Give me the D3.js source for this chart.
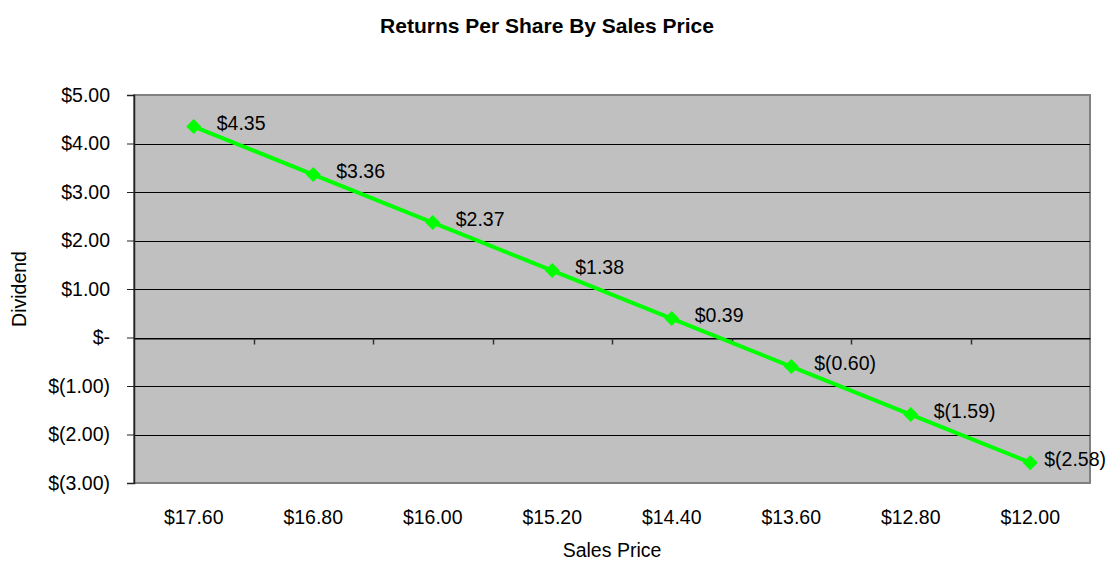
<!DOCTYPE html>
<html>
<head>
<meta charset="utf-8">
<script src="https://cdn.jsdelivr.net/npm/d3@7"></script>
<style>
  html, body { margin: 0; padding: 0; background: #fff; }
  svg { display: block; font-family: Arial, "Liberation Sans", sans-serif; }
</style>
</head>
<body>
<svg id="chart" width="1109" height="563"></svg>
<script>
// data
const prices = ["$17.60", "$16.80", "$16.00", "$15.20", "$14.40", "$13.60", "$12.80", "$12.00"];
const dividends = [4.35, 3.36, 2.37, 1.38, 0.39, -0.60, -1.59, -2.58];
const yTicks = [5, 4, 3, 2, 1, 0, -1, -2, -3];

const W = 1109, H = 563;
const margin = { top: 95, right: 19, bottom: 80, left: 134 };
const FS = 19.5;
const svg = d3.select("#chart");

// excel-style accounting format
function money(v) {
  if (v === 0) return "$-";
  const s = Math.abs(v).toFixed(2);
  return v < 0 ? `$(${s})` : `$${s}`;
}

const x = d3.scaleBand()
  .domain(prices)
  .range([margin.left, W - margin.right]);

const y = d3.scaleLinear()
  .domain([-3, 5])
  .range([H - margin.bottom, margin.top]);

const x0 = margin.left, x1 = W - margin.right;
const yTop = margin.top, yBot = H - margin.bottom;

// plot background
svg.append("rect")
  .attr("x", x0).attr("y", yTop)
  .attr("width", x1 - x0).attr("height", yBot - yTop)
  .attr("fill", "#c0c0c0")
  .attr("stroke", "#808080")
  .attr("stroke-width", 2);

// gridlines
svg.append("g")
  .selectAll("line")
  .data(yTicks.filter(d => d !== 5 && d !== -3))
  .join("line")
  .attr("x1", x0).attr("x2", x1)
  .attr("y1", d => Math.round(y(d)) + 0.5)
  .attr("y2", d => Math.round(y(d)) + 0.5)
  .attr("stroke", "#000")
  .attr("stroke-width", 1);

// y axis
const yAxis = svg.append("g")
  .attr("transform", `translate(${x0},0)`)
  .call(d3.axisLeft(y).tickValues(yTicks).tickSize(7).tickPadding(17).tickFormat(money));
yAxis.select(".domain").attr("stroke", "#222").attr("stroke-width", 1.5);
yAxis.selectAll(".tick line").attr("stroke", "#222");
yAxis.selectAll(".tick text")
  .attr("fill", "#000")
  .attr("font-size", FS)
  .attr("font-family", "Arial, 'Liberation Sans', sans-serif");

// category axis sits on zero, ticks hang down between bands
const zeroY = Math.round(y(0)) + 0.5;
const xAxis = svg.append("g")
  .attr("transform", `translate(0,${zeroY})`)
  .call(d3.axisBottom(x).tickSize(0).tickFormat(""));
xAxis.select(".domain").attr("stroke", "#000").attr("stroke-width", 1.2);

svg.append("g")
  .selectAll("line")
  .data(prices.slice(1))
  .join("line")
  .attr("x1", d => Math.round(x(d)) + 0.5)
  .attr("x2", d => Math.round(x(d)) + 0.5)
  .attr("y1", zeroY).attr("y2", zeroY + 6)
  .attr("stroke", "#333")
  .attr("stroke-width", 1.5);

// category labels below plot
svg.append("g")
  .selectAll("text")
  .data(prices)
  .join("text")
  .attr("x", d => x(d) + x.bandwidth() / 2)
  .attr("y", yBot + 41)
  .attr("text-anchor", "middle")
  .attr("font-size", FS)
  .text(d => d);

// series
const pts = prices.map((p, i) => ({ p, v: dividends[i] }));
const cx = d => x(d.p) + x.bandwidth() / 2;

svg.append("path")
  .datum(pts)
  .attr("fill", "none")
  .attr("stroke", "#00ff00")
  .attr("stroke-width", 4)
  .attr("d", d3.line().x(cx).y(d => y(d.v)));

svg.append("g")
  .selectAll("path")
  .data(pts)
  .join("path")
  .attr("transform", d => `translate(${cx(d)},${y(d.v)})`)
  .attr("d", "M0,-7.5L7.5,0L0,7.5L-7.5,0Z")
  .attr("fill", "#00ff00");

// data labels, right of the marker, kept inside the chart
svg.append("g")
  .selectAll("text")
  .data(pts)
  .join("text")
  .attr("font-size", FS)
  .attr("dy", "0.35em")
  .attr("y", d => y(d.v) - 3)
  .text(d => money(d.v))
  .attr("x", function (d) {
    const w = this.getComputedTextLength();
    return Math.min(cx(d) + 23, W - 3 - w);
  });

// titles
svg.append("text")
  .attr("x", 547).attr("y", 33)
  .attr("text-anchor", "middle")
  .attr("font-size", 21)
  .attr("font-weight", "bold")
  .text("Returns Per Share By Sales Price");

svg.append("text")
  .attr("x", (x0 + x1) / 2).attr("y", yBot + 74)
  .attr("text-anchor", "middle")
  .attr("font-size", FS)
  .text("Sales Price");

svg.append("text")
  .attr("transform", `translate(26,${(yTop + yBot) / 2}) rotate(-90)`)
  .attr("text-anchor", "middle")
  .attr("font-size", FS)
  .text("Dividend");
</script>
</body>
</html>
